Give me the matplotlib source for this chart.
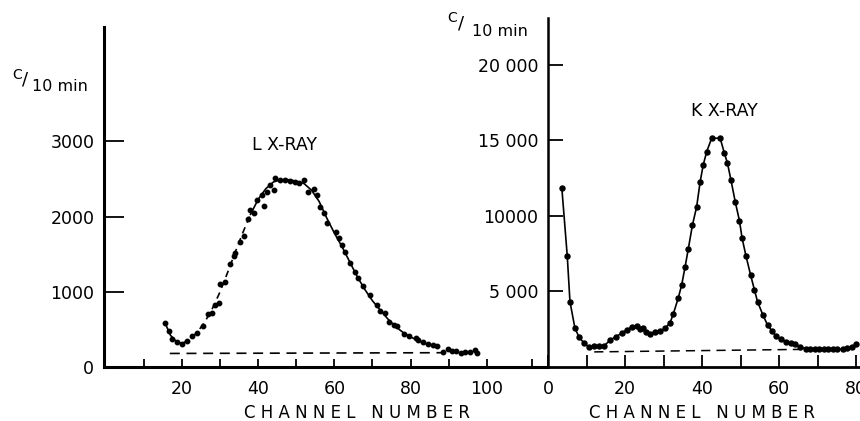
import numpy as np
import matplotlib
matplotlib.use("Agg")
import matplotlib.pyplot as plt

# ---- data ----
# L x-ray: measured points
l_chan = [15.5, 16.7, 17.3, 18.6, 19.9, 21.2, 22.5, 23.9, 25.4, 26.9, 27.8, 28.7,
          29.6, 30.0, 31.3, 32.6, 33.7, 33.9, 35.1, 36.4, 37.2, 37.9, 38.9, 39.6,
          41.0, 41.6, 42.3, 43.2, 44.2, 44.5, 45.8, 47.1, 48.4, 49.6, 50.6, 51.9,
          53.2, 54.6, 55.4, 56.3, 57.2, 58.1, 60.3, 61.1, 62.0, 62.9, 64.0, 65.3,
          66.2, 67.5, 69.3, 71.1, 72.1, 73.4, 74.3, 75.6, 76.5, 78.3, 79.6, 81.3,
          82.0, 83.3, 84.6, 85.9, 87.0, 88.5, 89.8, 90.9, 92.0, 93.1, 94.3, 95.5,
          96.8, 97.5]
l_counts = [588, 482, 372, 336, 305, 349, 412, 456, 544, 704, 721, 823,
            846, 1102, 1133, 1368, 1474, 1518, 1664, 1740, 1961, 2085, 2049, 2218,
            2284, 2138, 2328, 2417, 2351, 2506, 2480, 2480, 2470, 2455, 2440, 2490,
            2328, 2373, 2284, 2129, 2041, 1908, 1797, 1709, 1620, 1531, 1377, 1266,
            1178, 1076, 956, 823, 748, 713, 602, 558, 544, 440, 411, 381,
            358, 328, 305, 292, 279, 203, 235, 216, 216, 190, 203, 203,
            226, 182]

# L x-ray: hand-drawn curve through the points
l_fit_chan = [15.5, 17, 18.5, 20, 22, 24, 26, 28, 30, 32, 34, 36, 38, 40, 42, 44,
              46, 48, 50, 52, 54, 56, 58, 60, 62, 64, 66, 68, 70, 72, 74, 76, 78,
              80, 82, 84, 86, 87.5]
l_fit_counts = [590, 420, 340, 310, 370, 460, 600, 780, 1000, 1260, 1530, 1790,
                2030, 2230, 2370, 2460, 2490, 2490, 2470, 2440, 2350, 2200, 1980,
                1780, 1600, 1400, 1200, 1030, 880, 760, 640, 540, 460, 400, 350,
                310, 285, 270]
l_bg_chan = [16.8, 88.5]
l_bg_counts = [180, 190]

# K x-ray
k_chan = [3.6, 5.0, 5.7, 7.0, 8.1, 9.3, 10.7, 12.0, 13.3, 14.5, 16.2, 17.6, 19.1,
          20.4, 21.9, 23.0, 23.9, 24.7, 25.5, 26.5, 27.8, 29.1, 30.4, 31.7, 32.5,
          33.8, 34.7, 35.6, 36.4, 37.5, 38.6, 39.5, 40.3, 41.2, 42.5, 44.7, 45.8,
          46.6, 47.5, 48.6, 49.7, 50.4, 51.4, 52.6, 53.6, 54.4, 55.8, 57.0, 58.1,
          59.2, 60.4, 61.8, 63.0, 64.2, 65.5, 66.9, 68.0, 69.2, 70.4, 71.6, 72.8,
          73.9, 75.1, 76.5, 77.7, 78.9, 80.0]
k_counts = [11830, 7350, 4330, 2560, 1965, 1600, 1300, 1390, 1390, 1390, 1790,
            2010, 2230, 2450, 2670, 2715, 2490, 2560, 2340, 2185, 2340, 2380,
            2560, 2935, 3490, 4550, 5430, 6640, 7790, 9400, 10620, 12270, 13380,
            14260, 15150, 15150, 14150, 13490, 12380, 10950, 9690, 8520, 7350,
            6090, 5100, 4325, 3440, 2780, 2400, 2050, 1830, 1680, 1570, 1500,
            1345, 1190, 1170, 1170, 1170, 1170, 1170, 1170, 1170, 1170, 1236,
            1300, 1500]
k_bg_chan = [12, 67]
k_bg_counts = [1000, 1170]

W, H = 860, 421
plt.rcParams['font.family'] = 'DejaVu Sans'
fig = plt.figure(figsize=(W / 100, H / 100), dpi=100)


def px(x, y):
    return x / W, 1 - y / H


def ftext(x, y, s, **kw):
    kw.setdefault('ha', 'center')
    kw.setdefault('va', 'center')
    fig.text(*px(x, y), s, **kw)


def style(ax, lw_x, lw_y):
    for s in ('top', 'right'):
        ax.spines[s].set_visible(False)
    ax.spines['bottom'].set_linewidth(lw_x)
    ax.spines['left'].set_linewidth(lw_y)
    ax.patch.set_alpha(0)


# ---- left panel (L x-ray) ----
axl = fig.add_axes([104 / W, (H - 367) / H, (547 - 104) / W, (367 - 27) / H])
style(axl, 2.2, 2.2)
axl.set_xlim(-0.47, 115.8)
axl.set_ylim(0, 4520)

fc = np.array(l_fit_chan)
fv = np.array(l_fit_counts)
seg1 = fc <= 20
seg2 = (fc >= 20) & (fc <= 38)
seg3 = fc >= 38
axl.plot(fc[seg1], fv[seg1], color='black', lw=1.2)
axl.plot(fc[seg2], fv[seg2], color='black', lw=1.2, dashes=(4, 3))
axl.plot(fc[seg3], fv[seg3], color='black', lw=1.2)
axl.plot(l_chan, l_counts, 'o', color='black', ms=3.2)
axl.plot(l_bg_chan, l_bg_counts, color='black', lw=1.2, dashes=(6, 4))

axl.set_xticks([10, 20, 30, 40, 50, 60, 70, 80, 90, 100, 111.8])
axl.set_xticklabels(['', '20', '', '40', '', '60', '', '80', '', '100', ''])
axl.set_yticks([0, 1000, 2000, 3000])
axl.set_yticklabels(['0', '1000', '2000', '3000'])
axl.tick_params(axis='x', direction='in', length=6, width=1.3, pad=9,
                labelsize=12.5)
axl.tick_params(axis='y', direction='in', length=14.5, width=1.3, pad=7,
                labelsize=12.5)

# ---- right panel (K x-ray) ----
axr = fig.add_axes([548 / W, (H - 367) / H, (W - 548) / W, (367 - 18) / H])
style(axr, 2.0, 1.8)
axr.set_xlim(0, 81.0)
axr.set_ylim(0, 23110)

axr.plot(k_chan, k_counts, '-o', color='black', lw=1.2, ms=3.6)
axr.plot(k_bg_chan, k_bg_counts, color='black', lw=1.1, dashes=(6, 4))

axr.set_xticks([0, 10, 20, 30, 40, 50, 60, 70, 80])
axr.set_xticklabels(['0', '', '20', '', '40', '', '60', '', '80'])
axr.set_yticks([5000, 10000, 15000, 20000])
axr.set_yticklabels(['5 000', '10000', '15 000', '20 000'])
axr.tick_params(axis='x', direction='in', length=9, width=1.3, pad=9,
                labelsize=12.5)
axr.tick_params(axis='y', direction='in', length=11, width=1.3, pad=7,
                labelsize=12.5)
axr.set_clip_on(False)

# ---- text ----
ftext(284, 145, 'L X-RAY', fontsize=12.5)
ftext(724, 111, 'K X-RAY', fontsize=12.5)
ftext(357, 413, 'C H A N N E L   N U M B E R', fontsize=12)
ftext(702, 413, 'C H A N N E L   N U M B E R', fontsize=12)

# C/10 min labels
ftext(17, 75, 'C', fontsize=10)
ftext(25, 80, '/', fontsize=13)
ftext(32, 86.5, '10 min', fontsize=11.5, ha='left')
ftext(452.5, 18, 'C', fontsize=10)
ftext(461.5, 23.5, '/', fontsize=13)
ftext(472, 31, '10 min', fontsize=11.5, ha='left')

fig.savefig('out.png', dpi=100)
